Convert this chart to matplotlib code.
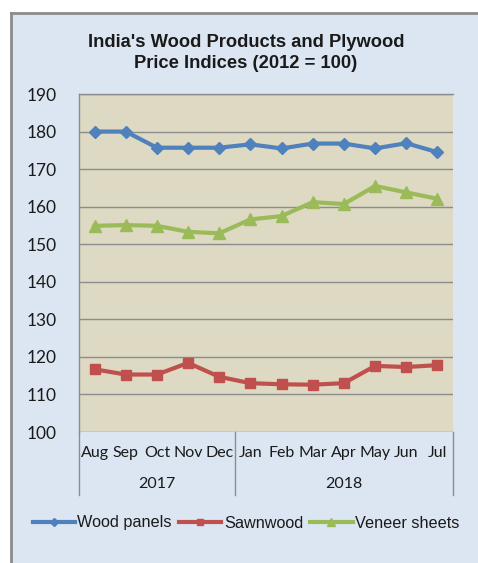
import matplotlib
matplotlib.use("Agg")
import matplotlib.pyplot as plt
from matplotlib.lines import Line2D

months = ["Aug", "Sep", "Oct", "Nov", "Dec", "Jan", "Feb", "Mar", "Apr", "May", "Jun", "Jul"]
years = ["2017", "2018"]
year_counts = [5, 7]
wood_panels = [180.0, 180.0, 175.7, 175.7, 175.7, 176.6, 175.5, 176.8, 176.8, 175.5, 176.9, 174.5]
sawnwood = [116.7, 115.3, 115.3, 118.4, 114.7, 113.0, 112.7, 112.6, 113.0, 117.6, 117.3, 117.8]
veneer = [154.9, 155.1, 154.9, 153.3, 152.9, 156.6, 157.5, 161.2, 160.7, 165.5, 163.8, 162.1]
title = "India's Wood Products and Plywood\nPrice Indices (2012 = 100)"

W, H = 478, 563
fig = plt.figure(figsize=(W / 100, H / 100), dpi=100)
fig.patch.set_facecolor("white")

# outer chart area
bg = plt.Rectangle((11 / W, 0), 1 - 11 / W, (H - 13) / H, transform=fig.transFigure,
                   facecolor="#DCE6F2", edgecolor="none", zorder=-5)
fig.patches.append(bg)
fig.lines.append(Line2D([11 / W, 11 / W], [0, (H - 13) / H], transform=fig.transFigure,
                        color="#8C8C8C", lw=2, zorder=-4))
fig.lines.append(Line2D([11 / W, 1], [(H - 13) / H, (H - 13) / H], transform=fig.transFigure,
                        color="#8C8C8C", lw=2, zorder=-4))

L, R, T, B = 79, 453, 94, 432
ax = fig.add_axes([L / W, (H - B) / H, (R - L) / W, (B - T) / H])
ax.set_facecolor("#DDD9C3")

x = list(range(len(months)))
ax.plot(x, wood_panels, color="#4F81BD", lw=3, marker="D", ms=6, label="Wood panels", zorder=3)
ax.plot(x, sawnwood, color="#C0504D", lw=3, marker="s", ms=7, label="Sawnwood", zorder=3)
ax.plot(x, veneer, color="#9BBB59", lw=3, marker="^", ms=8, label="Veneer sheets", zorder=3)

ax.set_xlim(-0.5, len(months) - 0.5)
ax.set_ylim(100, 190)
ax.set_yticks(range(100, 191, 10))
ax.yaxis.grid(True, color="#8C8C8C", lw=1)
ax.set_axisbelow(True)
for s in ["right", "bottom"]:
    ax.spines[s].set_visible(False)
for s in ["left", "top"]:
    ax.spines[s].set_color("#8C8C8C")
    ax.spines[s].set_linewidth(1)

ax.tick_params(axis="y", length=0, pad=16, labelsize=12.5, labelcolor="#1a1a1a")
ax.set_xticks(x)
ax.set_xticklabels(months, fontsize=11.5, color="#1a1a1a")
ax.tick_params(axis="x", length=0, pad=10)
for lab in ax.get_yticklabels() + ax.get_xticklabels():
    lab.set_fontfamily("Lato")

# category separators and year labels
trans = ax.get_xaxis_transform()
sep_bottom = -(495 - B) / (B - T)
bounds = [-0.5]
for c in year_counts:
    bounds.append(bounds[-1] + c)
for b in bounds:
    ax.add_line(Line2D([b, b], [0, sep_bottom], transform=trans, color="#8C8C8C", lw=1, clip_on=False))
for i, yr in enumerate(years):
    cx = (bounds[i] + bounds[i + 1]) / 2
    ax.text(cx, -(484 - B) / (B - T), yr, transform=trans, ha="center", va="center",
            fontsize=11.5, fontfamily="Lato", color="#1a1a1a")

fig.text(246 / W, 1 - 53 / H, title, ha="center", va="center", fontsize=13.2,
         fontweight="bold", fontfamily="Liberation Sans", linespacing=1.3, color="#1a1a1a")

leg = fig.legend(loc="center", bbox_to_anchor=(246 / W, 1 - 523 / H), ncol=3, frameon=False,
                 prop={"family": "Liberation Sans", "size": 11.7}, handlelength=2.6,
                 columnspacing=0.45, handletextpad=0.15, markerscale=0.7)
for t in leg.get_texts():
    t.set_color("#1a1a1a")

fig.savefig("out.png", dpi=100)
